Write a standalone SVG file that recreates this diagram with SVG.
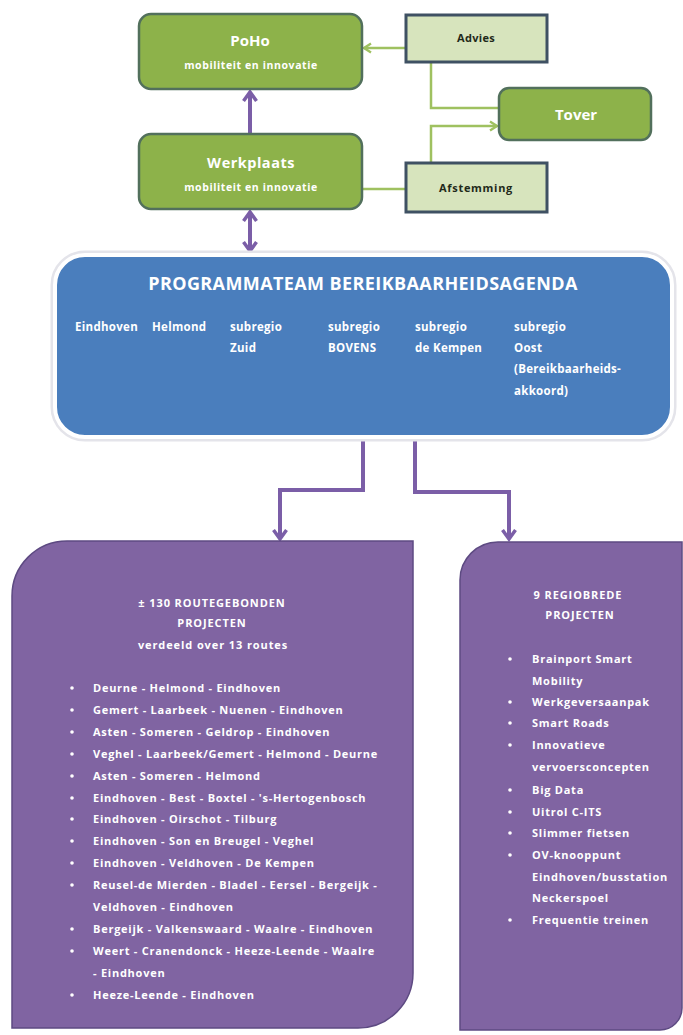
<svg xmlns="http://www.w3.org/2000/svg" width="683" height="1035" viewBox="0 0 683 1035">
<style>
text{font-family:"Open Sans","Liberation Sans",sans-serif;font-weight:700;}
.gbox{fill:#8db24a;stroke:#52705c;stroke-width:2.5;}
.lbox{fill:#d7e4bd;stroke:#3f5163;stroke-width:3;}
.wt{fill:#ffffff;}
.dk{fill:#1f2a1a;}
.gline{fill:none;stroke:#9fc160;stroke-width:2.5;}
.pline{fill:none;stroke:#7b5ea7;stroke-width:4;}
.pbox{fill:#8064a2;stroke:#5d4a82;stroke-width:1.5;}
.s11{font-size:11px;letter-spacing:0.75px;}
.hd{font-size:11px;letter-spacing:0.9px;}
.mid{text-anchor:middle;}
</style>
<defs>
<marker id="ga" markerUnits="userSpaceOnUse" markerWidth="12" markerHeight="12" refX="9" refY="6" orient="auto">
<path d="M2,1.5 L9,6 L2,10.5" fill="none" stroke="#9fc160" stroke-width="2.4"/>
</marker>
<marker id="pa" markerUnits="userSpaceOnUse" markerWidth="16" markerHeight="16" refX="12" refY="8" orient="auto-start-reverse">
<path d="M3,1.5 L12,8 L3,14.5" fill="none" stroke="#7b5ea7" stroke-width="3.5"/>
</marker>
</defs>
<rect width="683" height="1035" fill="#ffffff"/>

<g id="connectors">
<path class="gline" d="M499,108 H431 V48 H364" marker-end="url(#ga)"/>
<path class="gline" d="M362,189 H431 V126 H497" marker-end="url(#ga)"/>
<path class="pline" d="M250,133 V92" marker-end="url(#pa)"/>
<path class="pline" d="M250,212 V251" marker-start="url(#pa)" marker-end="url(#pa)"/>
<path class="pline" d="M363,440 V490 H280 V539" marker-end="url(#pa)"/>
<path class="pline" d="M415,440 V492 H509 V539" marker-end="url(#pa)"/>
</g>

<g id="poho">
<rect class="gbox" x="139" y="14" width="223" height="75" rx="12"/>
<text class="wt mid" x="250" y="46" font-size="15">PoHo</text>
<text class="wt mid" x="251" y="69" font-size="10.5" letter-spacing="0.6">mobiliteit en innovatie</text>
</g>

<g id="advies">
<rect class="lbox" x="406" y="15" width="141" height="47"/>
<text class="dk mid" x="476" y="42" font-size="11" letter-spacing="0.3">Advies</text>
</g>

<g id="tover">
<rect class="gbox" x="499" y="88" width="152" height="52" rx="10"/>
<text class="wt mid" x="576" y="120" font-size="15">Tover</text>
</g>

<g id="afstemming">
<rect class="lbox" x="406" y="163" width="141" height="49"/>
<text class="dk mid" x="476" y="192" font-size="11" letter-spacing="0.7">Afstemming</text>
</g>

<g id="werkplaats">
<rect class="gbox" x="139" y="134" width="223" height="75" rx="12"/>
<text class="wt mid" x="251" y="168" font-size="14.5" letter-spacing="0.5">Werkplaats</text>
<text class="wt mid" x="251" y="191" font-size="10.5" letter-spacing="0.6">mobiliteit en innovatie</text>
</g>

<g id="programmateam">
<rect x="55" y="255" width="617" height="182" rx="30" fill="none" stroke="#e4e4ea" stroke-width="9"/>
<rect x="55" y="255" width="617" height="182" rx="30" fill="#4a7ebd" stroke="#ffffff" stroke-width="4"/>
<text class="wt mid" x="363" y="290" font-size="18" letter-spacing="0.4">PROGRAMMATEAM BEREIKBAARHEIDSAGENDA</text>
<g font-size="11.5" letter-spacing="0.3" class="wt">
<text class="wt" x="75" y="331">Eindhoven</text>
<text class="wt" x="152" y="331">Helmond</text>
<text class="wt" x="230" y="331">subregio</text>
<text class="wt" x="230" y="352">Zuid</text>
<text class="wt" x="328" y="331">subregio</text>
<text class="wt" x="328" y="352">BOVENS</text>
<text class="wt" x="415" y="331">subregio</text>
<text class="wt" x="415" y="352">de Kempen</text>
<text class="wt" x="514" y="331">subregio</text>
<text class="wt" x="514" y="352">Oost</text>
<text class="wt" x="514" y="373">(Bereikbaarheids-</text>
<text class="wt" x="514" y="395">akkoord)</text>
</g>
</g>

<g id="routegebonden">
<path class="pbox" d="M12,596 A55,55 0 0 1 67,541 H413 V973 A55,55 0 0 1 358,1028 H12 Z"/>
<g class="wt hd">
<text class="wt mid" x="212" y="607">± 130 ROUTEGEBONDEN</text>
<text class="wt mid" x="212" y="627">PROJECTEN</text>
<text class="wt mid" x="213" y="649">verdeeld over 13 routes</text>
</g>
<g class="wt s11">
<circle cx="72" cy="688" r="1.8" fill="#fff"/><text class="wt" x="93" y="692">Deurne - Helmond - Eindhoven</text>
<circle cx="72" cy="710" r="1.8" fill="#fff"/><text class="wt" x="93" y="714">Gemert - Laarbeek - Nuenen - Eindhoven</text>
<circle cx="72" cy="732" r="1.8" fill="#fff"/><text class="wt" x="93" y="736">Asten - Someren - Geldrop - Eindhoven</text>
<circle cx="72" cy="754" r="1.8" fill="#fff"/><text class="wt" x="93" y="758">Veghel - Laarbeek/Gemert - Helmond - Deurne</text>
<circle cx="72" cy="776" r="1.8" fill="#fff"/><text class="wt" x="93" y="780">Asten - Someren - Helmond</text>
<circle cx="72" cy="798" r="1.8" fill="#fff"/><text class="wt" x="93" y="802">Eindhoven - Best - Boxtel - 's-Hertogenbosch</text>
<circle cx="72" cy="819" r="1.8" fill="#fff"/><text class="wt" x="93" y="823">Eindhoven - Oirschot - Tilburg</text>
<circle cx="72" cy="841" r="1.8" fill="#fff"/><text class="wt" x="93" y="845">Eindhoven - Son en Breugel - Veghel</text>
<circle cx="72" cy="863" r="1.8" fill="#fff"/><text class="wt" x="93" y="867">Eindhoven - Veldhoven - De Kempen</text>
<circle cx="72" cy="885" r="1.8" fill="#fff"/><text class="wt" x="93" y="889">Reusel-de Mierden - Bladel - Eersel - Bergeijk -</text>
<text class="wt" x="93" y="911">Veldhoven - Eindhoven</text>
<circle cx="72" cy="929" r="1.8" fill="#fff"/><text class="wt" x="93" y="933">Bergeijk - Valkenswaard - Waalre - Eindhoven</text>
<circle cx="72" cy="951" r="1.8" fill="#fff"/><text class="wt" x="93" y="955">Weert - Cranendonck - Heeze-Leende - Waalre</text>
<text class="wt" x="93" y="977">- Eindhoven</text>
<circle cx="72" cy="995" r="1.8" fill="#fff"/><text class="wt" x="93" y="999">Heeze-Leende - Eindhoven</text>
</g>
</g>

<g id="regiobrede">
<path class="pbox" d="M460,580 A38,38 0 0 1 498,542 H682 V1008 A22,22 0 0 1 660,1030 H460 Z"/>
<g class="wt hd">
<text class="wt mid" x="578" y="599">9 REGIOBREDE</text>
<text class="wt mid" x="580" y="619">PROJECTEN</text>
</g>
<g class="wt s11">
<circle cx="510" cy="659" r="1.8" fill="#fff"/><text class="wt" x="532" y="663">Brainport Smart</text>
<text class="wt" x="532" y="685">Mobility</text>
<circle cx="510" cy="702" r="1.8" fill="#fff"/><text class="wt" x="532" y="706">Werkgeversaanpak</text>
<circle cx="510" cy="723" r="1.8" fill="#fff"/><text class="wt" x="532" y="727">Smart Roads</text>
<circle cx="510" cy="745" r="1.8" fill="#fff"/><text class="wt" x="532" y="749">Innovatieve</text>
<text class="wt" x="532" y="771">vervoersconcepten</text>
<circle cx="510" cy="790" r="1.8" fill="#fff"/><text class="wt" x="532" y="794">Big Data</text>
<circle cx="510" cy="812" r="1.8" fill="#fff"/><text class="wt" x="532" y="816">Uitrol C-ITS</text>
<circle cx="510" cy="833" r="1.8" fill="#fff"/><text class="wt" x="532" y="837">Slimmer fietsen</text>
<circle cx="510" cy="855" r="1.8" fill="#fff"/><text class="wt" x="532" y="859">OV-knooppunt</text>
<text class="wt" x="532" y="881">Eindhoven/busstation</text>
<text class="wt" x="532" y="902">Neckerspoel</text>
<circle cx="510" cy="920" r="1.8" fill="#fff"/><text class="wt" x="532" y="924">Frequentie treinen</text>
</g>
</g>
</svg>
